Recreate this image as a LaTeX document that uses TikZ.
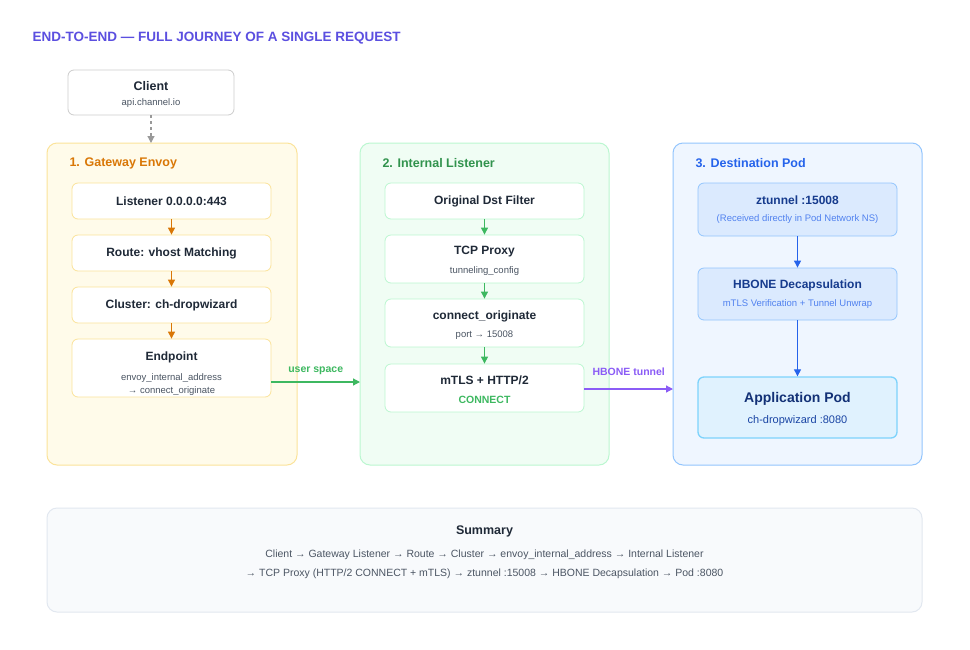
\documentclass[tikz,border=0pt]{standalone}
\usepackage{fontspec}
\setmainfont{Liberation Sans}
\usepackage{xcolor}
\usetikzlibrary{calc,arrows.meta,positioning}
\definecolor{ttlc}{HTML}{5B4FE0}
\definecolor{ink}{HTML}{1F2937}
\definecolor{muted}{HTML}{4B5563}
\definecolor{ygbg}{HTML}{FFFBEA}
\definecolor{ygline}{HTML}{FBE39A}
\definecolor{orange}{HTML}{D97706}
\definecolor{gnbg}{HTML}{F0FDF4}
\definecolor{gnline}{HTML}{BBF7D0}
\definecolor{green}{HTML}{3DB860}
\definecolor{blbg}{HTML}{EFF6FF}
\definecolor{blline}{HTML}{93C5FD}
\definecolor{blue}{HTML}{2563EB}
\definecolor{blbox}{HTML}{DBEAFE}
\definecolor{apbox}{HTML}{E0F2FE}
\definecolor{apline}{HTML}{7DD3FC}
\definecolor{purple}{HTML}{8B5CF6}
\definecolor{sumbg}{HTML}{F8FAFC}
\definecolor{sumline}{HTML}{E2E8F0}
\tikzset{
  panel/.style={rounded corners=10pt, line width=1pt},
  stage/.style={rounded corners=6pt, line width=0.8pt, fill=white, minimum width=199pt, align=center, inner sep=0pt},
  head/.style={font=\bfseries\fontsize{12.5}{15}\selectfont, anchor=west},
  stepname/.style={font=\bfseries\fontsize{12}{14}\selectfont, text=ink},
  sub/.style={font=\fontsize{9.5}{11}\selectfont, text=muted},
  flow/.style={-{Triangle[length=7pt,width=7pt]}, line width=1.2pt},
  lab/.style={font=\bfseries\fontsize{10.5}{12}\selectfont},
}
\begin{document}
\begin{tikzpicture}[x=1pt,y=-1pt]
  \useasboundingbox[fill=white] (0,0) rectangle (970,649);
  \node[anchor=west, text=ttlc, font=\bfseries\fontsize{13.5}{16}\selectfont] (ttl) at (29,38) {END-TO-END — FULL JOURNEY OF A SINGLE REQUEST};

  % client
  \node[stage, draw=black!20, minimum width=166pt, minimum height=45pt] (cl) at (151,92.5) {};
  \node[stepname, font=\bfseries\fontsize{12.5}{15}\selectfont] at (151,86) {Client};
  \node[sub] at (151,103) {api.channel.io};

  % panels
  \draw[panel, fill=ygbg, draw=ygline] (47,143) rectangle (297,465);
  \draw[panel, fill=gnbg, draw=gnline] (360,143) rectangle (609,465);
  \draw[panel, fill=blbg, draw=blline] (673,143) rectangle (922,465);
  \coordinate (p1n) at (151,143);
  \coordinate (p2w) at (360,300);
  \coordinate (p3w) at (673,300);
  \node[head, text=orange] at (66,163) {1. Gateway Envoy};
  \node[head, text=green!80!black] at (379,163) {2. Internal Listener};
  \node[head, text=blue] at (692,163) {3. Destination Pod};

  \draw[flow, black!40, dashed] (cl.south) -- (p1n);

  % gateway envoy
  \node[stage, draw=ygline, minimum height=36pt] (ls) at (171.5,201) {};
  \node[stepname] at (ls) {Listener 0.0.0.0:443};
  \node[stage, draw=ygline, minimum height=36pt] (rt) at (171.5,253) {};
  \node[stepname] at (rt) {Route: vhost Matching};
  \node[stage, draw=ygline, minimum height=36pt] (cs) at (171.5,305) {};
  \node[stepname] at (cs) {Cluster: ch-dropwizard};
  \node[stage, draw=ygline, minimum height=58pt] (ep) at (171.5,368) {};
  \node[stepname] at (171.5,357) {Endpoint};
  \node[sub] at (171.5,378) {envoy\_internal\_address};
  \node[sub] at (171.5,391) {→ connect\_originate};
  \draw[flow, orange, line width=1pt] (ls) -- (rt);
  \draw[flow, orange, line width=1pt] (rt) -- (cs);
  \draw[flow, orange, line width=1pt] (cs) -- (ep);

  % internal listener
  \node[stage, draw=gnline, minimum height=36pt] (od) at (484.5,201) {};
  \node[stepname] at (od) {Original Dst Filter};
  \node[stage, draw=gnline, minimum height=48pt] (tp) at (484.5,259) {};
  \node[stepname] at (484.5,252) {TCP Proxy};
  \node[sub] at (484.5,271) {tunneling\_config};
  \node[stage, draw=gnline, minimum height=48pt] (co) at (484.5,323) {};
  \node[stepname] at (484.5,316) {connect\_originate};
  \node[sub] at (484.5,335) {port → 15008};
  \node[stage, draw=gnline, minimum height=48pt] (mt) at (484.5,388) {};
  \node[stepname] at (484.5,380) {mTLS + HTTP/2};
  \node[lab, text=green] at (484.5,400) {CONNECT};
  \draw[flow, green, line width=1pt] (od) -- (tp);
  \draw[flow, green, line width=1pt] (tp) -- (co);
  \draw[flow, green, line width=1pt] (co) -- (mt);

  % destination pod
  \node[stage, draw=blline, fill=blbox, minimum height=53pt] (zt) at (797.5,209.5) {};
  \node[stepname, text=blue!60!black] at (797.5,200) {ztunnel :15008};
  \node[sub, text=blue!80, font=\fontsize{9.5}{11}\selectfont] at (797.5,219) {(Received directly in Pod Network NS)};
  \node[stage, draw=blline, fill=blbox, minimum height=52pt] (hb) at (797.5,294) {};
  \node[stepname, text=blue!60!black] at (797.5,285) {HBONE Decapsulation};
  \node[sub, text=blue!80, font=\fontsize{9.5}{11}\selectfont] at (797.5,304) {mTLS Verification + Tunnel Unwrap};
  \node[stage, draw=apline, fill=apbox, line width=1.3pt, minimum height=61pt] (ap) at (797.5,407.5) {};
  \node[stepname, text=blue!50!black, font=\bfseries\fontsize{14}{16}\selectfont] at (797.5,399) {Application Pod};
  \node[sub, text=blue!70!black, font=\fontsize{11}{13}\selectfont] at (797.5,421) {ch-dropwizard :8080};
  \draw[flow, blue, line width=1pt] (zt) -- (hb);
  \draw[flow, blue, line width=1pt] (hb) -- (ap);

  % crossings
  \draw[flow, green] (ep.east |- 0,382) -- (p2w |- 0,382) node[lab, text=green, midway, above=3pt] {user space};
  \draw[flow, purple] (mt.east |- 0,389) -- (p3w |- 0,389) node[lab, text=purple, midway, above=9pt] {HBONE tunnel};

  % summary
  \draw[panel, fill=sumbg, draw=sumline] (47,508) rectangle (922,612);
  \node[stepname, font=\bfseries\fontsize{12.5}{15}\selectfont] (sm) at (484.5,531) {Summary};
  \node[sub, font=\fontsize{10.5}{12}\selectfont] at (484.5,555) {Client → Gateway Listener → Route → Cluster → envoy\_internal\_address → Internal Listener};
  \node[sub, font=\fontsize{10.5}{12}\selectfont] at (484.5,574) {→ TCP Proxy (HTTP/2 CONNECT + mTLS) → ztunnel :15008 → HBONE Decapsulation → Pod :8080};
\end{tikzpicture}
\end{document}
